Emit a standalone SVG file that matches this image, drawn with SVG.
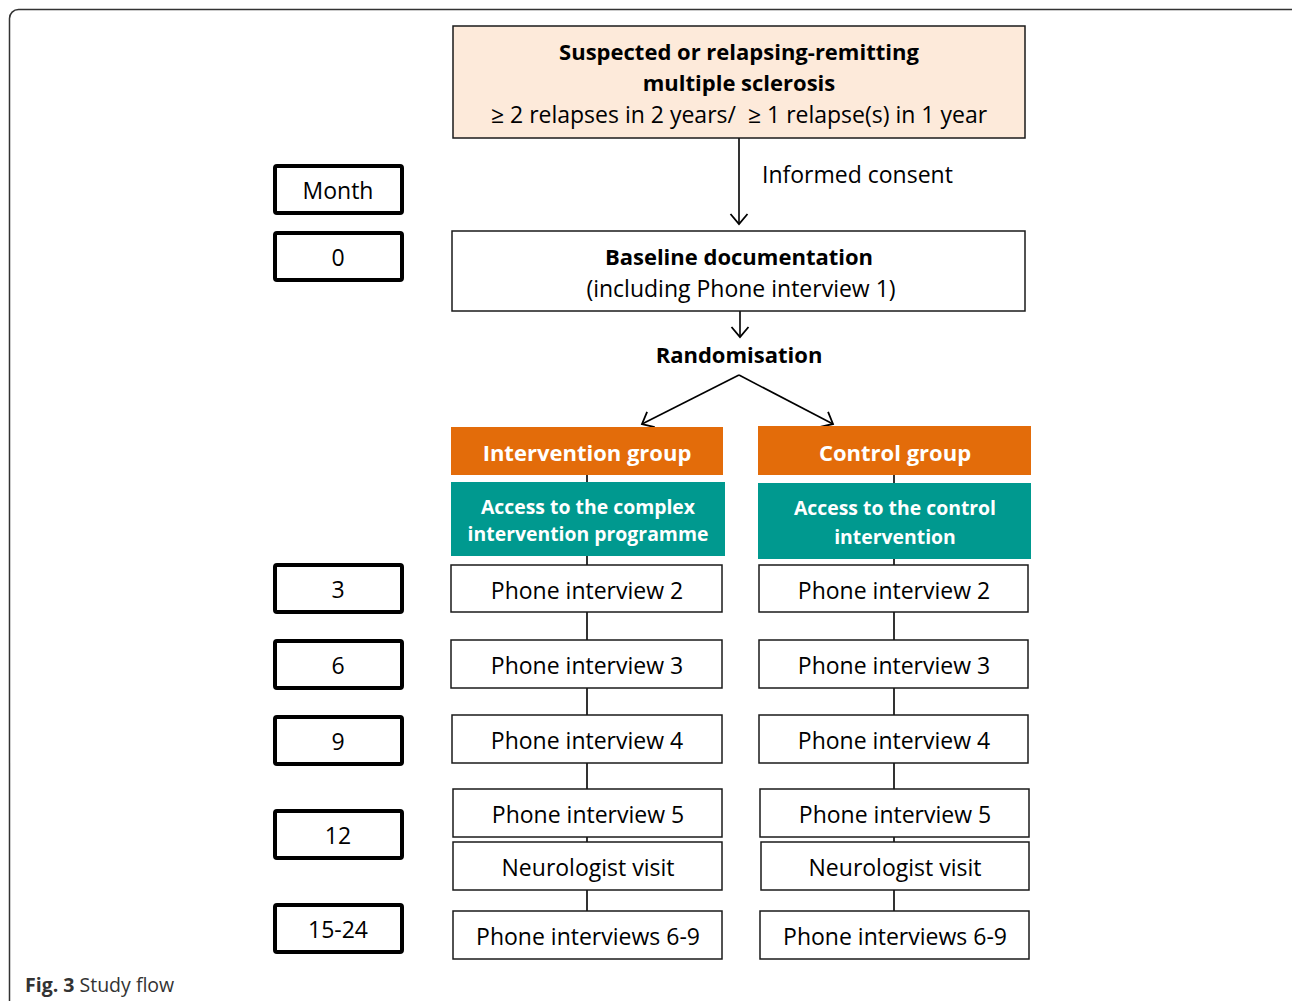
<svg xmlns="http://www.w3.org/2000/svg" width="1292" height="1001" viewBox="0 0 1292 1001">
<style>
  text { font-family: "Open Sans", "Noto Sans", "Liberation Sans", sans-serif; fill: #000; text-anchor: middle; }
  .b { font-weight: 700; }
  .w { fill: #fff; }
  .box { fill: #fff; stroke: #1a1a1a; stroke-width: 1.5; }
  .mon { fill: #fff; stroke: #000; stroke-width: 4; }
  .con { stroke: #000; stroke-width: 1.6; fill: none; }
  .t23 { font-size: 23px; }
  .tb { font-size: 22px; }
  .t20 { font-size: 19.4px; }
</style>
<defs>
  <marker id="ah" markerWidth="22" markerHeight="22" refX="11" refY="11" orient="auto" markerUnits="userSpaceOnUse">
    <path d="M1,2.5 L11,11 L1,19.5" fill="none" stroke="#000" stroke-width="1.8"/>
  </marker>
</defs>
<rect x="9.5" y="9.5" width="1300" height="1010" rx="9" fill="#fff" stroke="#333" stroke-width="1.5"/>

<g id="connectors">
  <line class="con" x1="739" y1="138" x2="739" y2="224" marker-end="url(#ah)"/>
  <line class="con" x1="740" y1="311" x2="740" y2="337" marker-end="url(#ah)"/>
  <line class="con" x1="739" y1="375" x2="642" y2="424" marker-end="url(#ah)"/>
  <line class="con" x1="739" y1="375" x2="833" y2="424" marker-end="url(#ah)"/>
  <path class="con" d="M587,475 V482 M587,556 V565 M587,612 V640 M587,688 V715 M587,763 V789 M587,837 V842 M587,890 V911"/>
  <path class="con" d="M894,475 V483 M894,559 V565 M894,612 V640 M894,688 V715 M894,763 V789 M894,837 V842 M894,890 V911"/>
</g>

<g id="top">
  <rect x="453" y="26" width="572" height="112" fill="#fdeada" stroke="#1a1a1a" stroke-width="1.5"/>
  <text class="b tb" x="739" y="60">Suspected or relapsing-remitting</text>
  <text class="b tb" x="739" y="91">multiple sclerosis</text>
  <text class="t23" x="739" y="123">≥ 2 relapses in 2 years/&#160; ≥ 1 relapse(s) in 1 year</text>
</g>
<g id="consent-label"><text class="t23" x="762" y="183" style="text-anchor:start">Informed consent</text></g>

<g id="baseline">
  <rect class="box" x="452" y="231" width="573" height="80"/>
  <text class="b tb" x="739" y="265">Baseline documentation</text>
  <text class="t23" x="741" y="297">(including Phone interview 1)</text>
</g>
<g id="randomisation"><text class="b tb" x="739" y="363">Randomisation</text></g>

<g id="intervention-group">
  <rect x="451" y="427" width="272" height="48" fill="#e36c0a"/>
  <text class="b tb w" x="587" y="461">Intervention group</text>
</g>
<g id="control-group">
  <rect x="758" y="426" width="273" height="49" fill="#e36c0a"/>
  <text class="b tb w" x="895" y="461">Control group</text>
</g>
<g id="access-complex">
  <rect x="451" y="482" width="274" height="74" fill="#00998f"/>
  <text class="b t20 w" x="588" y="514">Access to the complex</text>
  <text class="b t20 w" x="588" y="541">intervention programme</text>
</g>
<g id="access-control">
  <rect x="758" y="483" width="273" height="76" fill="#00998f"/>
  <text class="b t20 w" x="895" y="515">Access to the control</text>
  <text class="b t20 w" x="895" y="544">intervention</text>
</g>

<g id="L-pi2"><rect class="box" x="451" y="565" width="271" height="47"/><text class="t23" x="587" y="599">Phone interview 2</text></g>
<g id="R-pi2"><rect class="box" x="759" y="565" width="269" height="47"/><text class="t23" x="894" y="599">Phone interview 2</text></g>
<g id="L-pi3"><rect class="box" x="451" y="640" width="271" height="48"/><text class="t23" x="587" y="674">Phone interview 3</text></g>
<g id="R-pi3"><rect class="box" x="759" y="640" width="269" height="48"/><text class="t23" x="894" y="674">Phone interview 3</text></g>
<g id="L-pi4"><rect class="box" x="452" y="715" width="270" height="48"/><text class="t23" x="587" y="749">Phone interview 4</text></g>
<g id="R-pi4"><rect class="box" x="759" y="715" width="269" height="48"/><text class="t23" x="894" y="749">Phone interview 4</text></g>
<g id="L-pi5"><rect class="box" x="453" y="789" width="269" height="48"/><text class="t23" x="588" y="823">Phone interview 5</text></g>
<g id="R-pi5"><rect class="box" x="760" y="789" width="269" height="48"/><text class="t23" x="895" y="823">Phone interview 5</text></g>
<g id="L-neuro"><rect class="box" x="453" y="842" width="269" height="48"/><text class="t23" x="588" y="876">Neurologist visit</text></g>
<g id="R-neuro"><rect class="box" x="761" y="842" width="268" height="48"/><text class="t23" x="895" y="876">Neurologist visit</text></g>
<g id="L-pi69"><rect class="box" x="453" y="911" width="269" height="48"/><text class="t23" x="588" y="945">Phone interviews 6-9</text></g>
<g id="R-pi69"><rect class="box" x="760" y="911" width="269" height="48"/><text class="t23" x="895" y="945">Phone interviews 6-9</text></g>

<g id="m-month"><rect class="mon" x="275" y="166" width="127" height="47" rx="2"/><text class="t23" x="338" y="199">Month</text></g>
<g id="m-0"><rect class="mon" x="275" y="233" width="127" height="47" rx="2"/><text class="t23" x="338" y="266">0</text></g>
<g id="m-3"><rect class="mon" x="275" y="565" width="127" height="47" rx="2"/><text class="t23" x="338" y="598">3</text></g>
<g id="m-6"><rect class="mon" x="275" y="641" width="127" height="47" rx="2"/><text class="t23" x="338" y="674">6</text></g>
<g id="m-9"><rect class="mon" x="275" y="717" width="127" height="47" rx="2"/><text class="t23" x="338" y="750">9</text></g>
<g id="m-12"><rect class="mon" x="275" y="811" width="127" height="47" rx="2"/><text class="t23" x="338" y="844">12</text></g>
<g id="m-1524"><rect class="mon" x="275" y="905" width="127" height="47" rx="2"/><text class="t23" x="338" y="938">15-24</text></g>

<text x="25" y="992" style="text-anchor:start;font-size:19.5px;fill:#333"><tspan font-weight="700">Fig. 3</tspan> Study flow</text>
</svg>
